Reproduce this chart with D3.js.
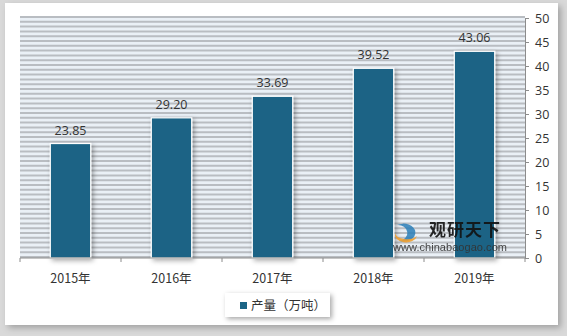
<!DOCTYPE html>
<html>
<head>
<meta charset="utf-8">
<script src="https://cdn.jsdelivr.net/npm/d3@7"></script>
<style>
  body { margin: 0; background: #d9d9d9; }
  svg { display: block; font-family: "Open Sans", "Noto Sans CJK SC", sans-serif; }
</style>
</head>
<body>
<div id="chart"></div>
<script>
var years = ["2015年", "2016年", "2017年", "2018年", "2019年"];
var output = [23.85, 29.20, 33.69, 39.52, 43.06];
var yTicks = [0, 5, 10, 15, 20, 25, 30, 35, 40, 45, 50];
var seriesName = "产量（万吨）";

var width = 567, height = 336;
var margin = {top: 18, right: 42, bottom: 78, left: 20};

var svg = d3.select("#chart").append("svg")
  .attr("width", width)
  .attr("height", height);

var defs = svg.append("defs");
var sh = defs.append("filter").attr("id", "shadow")
  .attr("x", "-30%").attr("y", "-30%").attr("width", "160%").attr("height", "160%");
sh.append("feDropShadow").attr("dx", 2).attr("dy", 2).attr("stdDeviation", 2.5)
  .attr("flood-color", "#000").attr("flood-opacity", 0.35);
var sh2 = defs.append("filter").attr("id", "panelShadow")
  .attr("x", "-5%").attr("y", "-5%").attr("width", "110%").attr("height", "110%");
sh2.append("feDropShadow").attr("dx", 3).attr("dy", 3).attr("stdDeviation", 3)
  .attr("flood-color", "#000").attr("flood-opacity", 0.25);

// white panel
svg.append("rect")
  .attr("x", 5).attr("y", 3).attr("width", 553).attr("height", 322)
  .attr("fill", "#fff")
  .attr("filter", "url(#panelShadow)");

var w = width - margin.left - margin.right;
var h = height - margin.top - margin.bottom;
var g = svg.append("g").attr("transform", "translate(" + margin.left + "," + margin.top + ")");

var x = d3.scaleBand().domain(years).range([0, w]).paddingInner(0.6).paddingOuter(0.3);
var xb = d3.scaleBand().domain(years).range([0, w]);
var y = d3.scaleLinear().domain([0, 50]).range([h, 0]);

// striped background
g.append("rect").attr("width", w).attr("height", h).attr("fill", "#eaf0f6");
g.append("g").selectAll("line")
  .data(d3.range(0, 51))
  .enter().append("line")
  .attr("x1", 0).attr("x2", w)
  .attr("y1", function(d) { return y(d) - 1; })
  .attr("y2", function(d) { return y(d) - 1; })
  .attr("stroke", "#b9bdc2")
  .attr("stroke-width", 2);

// bars
g.selectAll(".bar")
  .data(output)
  .enter().append("rect")
  .attr("class", "bar")
  .attr("x", function(d, i) { return x(years[i]); })
  .attr("y", function(d) { return y(d); })
  .attr("width", x.bandwidth())
  .attr("height", function(d) { return h - y(d); })
  .attr("fill", "#1b6485")
  .attr("stroke", "#fff")
  .attr("stroke-width", 1.2)
  .attr("filter", "url(#shadow)");

// value labels
g.selectAll(".lbl")
  .data(output)
  .enter().append("text")
  .attr("class", "lbl")
  .attr("x", function(d, i) { return x(years[i]) + x.bandwidth() / 2; })
  .attr("y", function(d) { return y(d) - 9; })
  .attr("text-anchor", "middle")
  .attr("font-size", 12.5)
  .attr("fill", "#333")
  .text(function(d) { return d.toFixed(2); });

// x axis
var xAxis = g.append("g")
  .attr("transform", "translate(0," + h + ")");
xAxis.append("line").attr("x1", 0).attr("x2", w).attr("stroke", "#8c8c8c");
xAxis.selectAll(".tk")
  .data(d3.range(0, years.length + 1))
  .enter().append("line")
  .attr("x1", function(d) { return d * xb.step(); })
  .attr("x2", function(d) { return d * xb.step(); })
  .attr("y1", 0).attr("y2", 4)
  .attr("stroke", "#8c8c8c");
xAxis.selectAll("text")
  .data(years)
  .enter().append("text")
  .attr("x", function(d) { return xb(d) + xb.bandwidth() / 2; })
  .attr("y", 25)
  .attr("text-anchor", "middle")
  .attr("font-size", 12.5)
  .attr("font-family", "'Noto Sans CJK SC', sans-serif")
  .attr("fill", "#333")
  .text(function(d) { return d; });

// y axis on right
var yAxis = g.append("g")
  .attr("transform", "translate(" + w + ",0)")
  .call(d3.axisRight(y).tickValues(yTicks).tickSize(4).tickPadding(6));
yAxis.select(".domain").attr("stroke", "#8c8c8c");
yAxis.selectAll(".tick line").attr("stroke", "#8c8c8c");
yAxis.selectAll(".tick text").attr("font-size", 12.5).attr("fill", "#333")
  .attr("font-family", "'Open Sans', sans-serif");

// legend
var leg = svg.append("g").attr("transform", "translate(225,293)");
leg.append("rect").attr("width", 105).attr("height", 24).attr("fill", "#fff")
  .attr("filter", "url(#shadow)");
leg.append("rect").attr("x", 15).attr("y", 9).attr("width", 7).attr("height", 7).attr("fill", "#1b6485");
leg.append("text").attr("x", 26).attr("y", 17)
  .attr("font-size", 12.5)
  .attr("font-family", "'Noto Sans CJK SC', sans-serif")
  .attr("fill", "#333")
  .text(seriesName);

// watermark
var wm = svg.append("g").attr("transform", "translate(393,219)");
wm.append("path").attr("d", "M4,6 a12,9 0 1,1 2,16 a7,6 0 1,0 -2,-16")
  .attr("fill", "#2a7fb8").attr("opacity", 0.85);
wm.append("path").attr("d", "M2,14 a12,7 0 0,0 22,3 a7,5 0 0,1 -22,-3")
  .attr("fill", "#f0a030").attr("opacity", 0.9);
wm.append("text").attr("x", 36).attr("y", 17)
  .attr("font-size", 17).attr("font-weight", "bold")
  .attr("font-family", "'Noto Sans CJK SC', sans-serif")
  .attr("fill", "#111").attr("opacity", 0.9)
  .attr("letter-spacing", 1)
  .text("观研天下");
wm.append("text").attr("x", 0).attr("y", 32)
  .attr("font-size", 11)
  .attr("font-family", "Arial, 'Liberation Sans', sans-serif")
  .attr("fill", "#333").attr("opacity", 0.9)
  .attr("textLength", 114)
  .text("www.chinabaogao.com");
</script>
</body>
</html>
